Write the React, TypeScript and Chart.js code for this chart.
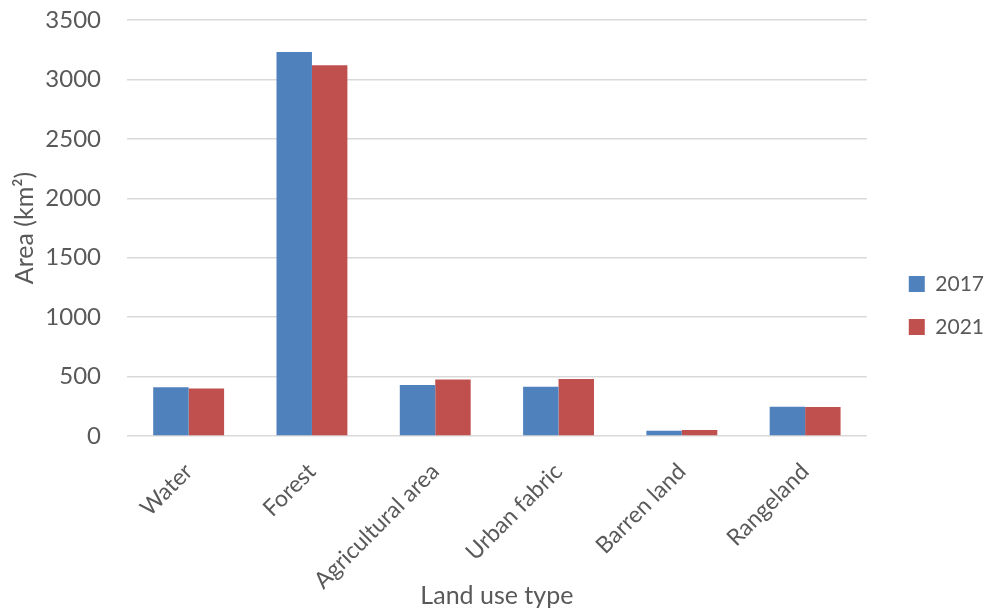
import React, { useEffect, useRef } from "react";
import { Chart, registerables } from "chart.js";

Chart.register(...registerables);

const categories = ["Water", "Forest", "Agricultural area", "Urban fabric", "Barren land", "Rangeland"];
const values2017 = [410, 3230, 430, 415, 45, 247];
const values2021 = [400, 3120, 475, 480, 50, 245];
const seriesLabels = ["2017", "2021"];

const FONT = "Lato, 'Open Sans', sans-serif";
const TEXT = "#595959";
const LEGEND_PAD = 22;
const LEGEND_GAP = 42;

const legendShift = {
  id: "legendShift",
  afterLayout(chart: any) {
    const l = chart.legend;
    if (!l) return;
    const d = chart.chartArea.right + LEGEND_GAP - (l.left + LEGEND_PAD);
    l.left += d;
    l.right += d;
  },
};

export default function App() {
  const ref = useRef<HTMLCanvasElement | null>(null);
  useEffect(() => {
    if (!ref.current) return;
    const chart = new Chart(ref.current, {
      type: "bar",
      data: {
        labels: categories,
        datasets: [
          { label: seriesLabels[0], data: values2017, backgroundColor: "#4f81bd" },
          { label: seriesLabels[1], data: values2021, backgroundColor: "#c0504d" },
        ],
      },
      plugins: [legendShift],
      options: {
        animation: false,
        responsive: true,
        maintainAspectRatio: false,
        datasets: { bar: { categoryPercentage: 0.575, barPercentage: 1 } },
        layout: { padding: { top: 0, left: 0, right: 13, bottom: -2 } },
        plugins: {
          legend: {
            position: "right",
            labels: {
              boxWidth: 16,
              boxHeight: 16,
              padding: LEGEND_PAD,
              color: TEXT,
              font: { family: FONT, size: 21 },
            },
          },
          tooltip: { enabled: false },
        },
        scales: {
          x: {
            grid: { display: false },
            border: { display: false },
            afterFit: (s: any) => {
              s.height = 175;
            },
            ticks: {
              color: TEXT,
              font: { family: FONT, size: 23 },
              maxRotation: 45,
              minRotation: 45,
              autoSkip: false,
              padding: 14,
            },
            title: {
              display: true,
              text: "Land use type",
              color: TEXT,
              font: { family: FONT, size: 25 },
              padding: { top: 0, bottom: 0 },
            },
          },
          y: {
            min: 0,
            max: 3500,
            grid: { color: "#d9d9d9", lineWidth: 1.5, drawTicks: false },
            border: { display: false },
            afterFit: (s: any) => {
              s.width = 127;
              s.paddingTop = 20;
            },
            ticks: {
              stepSize: 500,
              color: TEXT,
              font: { family: FONT, size: 24 },
              padding: 26,
              callback: (v: any) => String(v),
            },
            title: {
              display: true,
              text: "Area (km²)",
              color: TEXT,
              font: { family: FONT, size: 25 },
              padding: { top: 10, bottom: 0 },
            },
          },
        },
      },
    });
    return () => chart.destroy();
  }, []);
  return (
    <div style={{ position: "fixed", left: 0, top: 0, width: 987, height: 609, background: "#fff" }}>
      <canvas ref={ref} />
    </div>
  );
}
